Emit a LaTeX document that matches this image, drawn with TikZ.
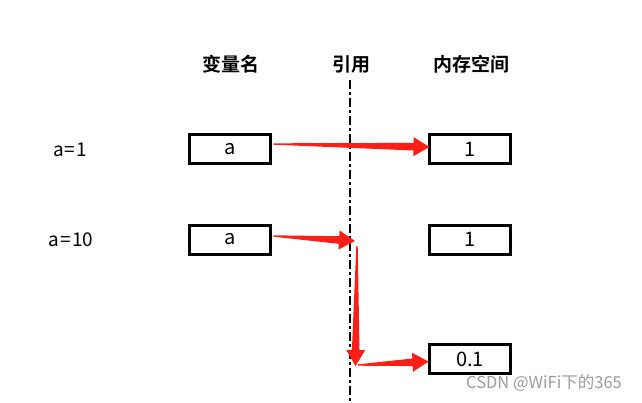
\documentclass[tikz,border=0pt]{standalone}
\usepackage{fontspec}
\setmainfont{Noto Sans CJK SC}
\newfontfamily\hdfont{Noto Sans CJK SC Bold}
\usetikzlibrary{calc}
\definecolor{arrred}{RGB}{250,32,24}
\definecolor{wmgray}{RGB}{155,155,155}
\newcommand\taperarrow[2]{%
  \path coordinate (tB) at ($(#2)!16pt!(#1)$);
  \fill[arrred] ($(#1)!0.7pt!90:(#2)$) -- ($(tB)!3.8pt!90:(#2)$) -- ($(tB)!9.5pt!90:(#2)$) -- (#2)
     -- ($(tB)!9.5pt!-90:(#2)$) -- ($(tB)!3.8pt!-90:(#2)$) -- ($(#1)!0.7pt!-90:(#2)$) -- cycle;
}
\begin{document}
\begin{tikzpicture}[x=1pt,y=-1pt,
  box/.style={draw,line width=3pt,minimum width=81pt,minimum height=29pt,inner sep=0pt,font=\fontsize{20}{22}\selectfont},
  hd/.style={font=\hdfont\fontsize{19}{22}\selectfont,inner sep=0pt},
  lbl/.style={font=\fontsize{19}{21}\selectfont,inner sep=0pt}]
\useasboundingbox (0,0) rectangle (642,402);
% headers
\node[hd] (h1) at (231,64) {变量名};
\node[hd] (h2) at (351,64) {引用};
\node[hd] (h3) at (471,64) {内存空间};
% reference line
\coordinate (ltop) at (350,80);
\coordinate (lbot) at (350,402);
\draw[line width=2pt,dash pattern=on 9pt off 3pt on 3pt off 3pt] (ltop) -- (lbot);
% labels
\node[lbl] (l1) at (70,150) {a\kern1pt=\kern1pt1};
\node[lbl] (l2) at (71,240) {a\kern1pt=\kern1pt10};
% boxes
\node[box] (a1) at (230,149) {a};
\node[box] (v1) at (470,149) {1};
\node[box] (a2) at (230,239.5) {a};
\node[box] (v2) at (470,239.5) {1};
\node[box] (v3) at (470,359) {0.1};
% arrows
\coordinate (s1) at ($(a1.east)+(1.5,-5)$);
\coordinate (t1) at ($(v1.west)+(1.5,-2)$);
\taperarrow{s1}{t1}
\coordinate (s2) at ($(a2.east)+(1.5,-3.5)$);
\coordinate (m1) at (355,241);
\taperarrow{s2}{m1}
\coordinate (m2) at (357,246);
\coordinate (m3) at (355.5,366);
\taperarrow{m2}{m3}
\coordinate (m4) at (358,365);
\coordinate (t3) at ($(v3.west)+(0.5,2.5)$);
\taperarrow{m4}{t3}
% watermark
\node[font=\fontsize{16.5}{18}\selectfont,text=wmgray,inner sep=0pt] (wm) at (544,383) {CSDN @WiFi下的365};
\end{tikzpicture}
\end{document}
